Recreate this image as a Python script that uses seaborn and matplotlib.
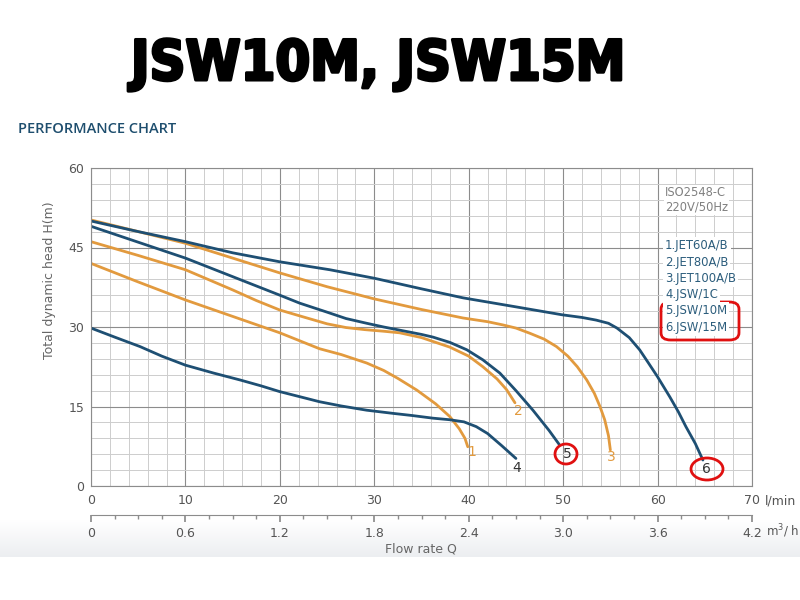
import numpy as np
import pandas as pd
import matplotlib
matplotlib.use("Agg")
import matplotlib.pyplot as plt
import matplotlib.patheffects as pe
import seaborn as sns
from matplotlib.patches import FancyBboxPatch, Ellipse

# ---------------- data ----------------
models = ["1.JET60A/B", "2.JET80A/B", "3.JET100A/B", "4.JSW/1C", "5.JSW/10M", "6.JSW/15M"]

flow_1 = [0, 5, 10, 15, 20, 22.1, 24.2, 26.5, 29.2, 31, 32.5, 34.5, 36.5, 38, 39, 39.6, 39.9]
head_1 = [42, 38.5, 35.1, 32, 28.9, 27.4, 25.9, 24.8, 23.2, 21.8, 20.3, 18.1, 15.5, 13.1, 10.8, 9, 7.4]

flow_2 = [0, 5, 10, 12.5, 15, 17.5, 20, 22.1, 25, 27, 29, 31, 32.7, 35, 38, 40, 41.5, 43, 44, 44.9]
head_2 = [46.1, 43.5, 40.8, 38.9, 37, 35, 33.2, 32.1, 30.6, 29.9, 29.5, 29.2, 28.9, 28, 26.2, 24.5, 22.5, 20.2, 18.2, 15.7]

flow_3 = [0, 5, 10, 15, 20, 25, 30, 35, 39.4, 42, 43.6, 45, 46.5, 48, 49.3, 50.5, 51.5, 52.5, 53.3, 53.9, 54.4, 54.8, 55]
head_3 = [50.2, 48, 45.8, 43, 40.2, 37.6, 35.3, 33.3, 31.7, 31, 30.4, 29.8, 28.8, 27.7, 26.3, 24.5, 22.5, 20, 17.5, 15, 12.5, 9.5, 6.8]

flow_4 = [0, 2.5, 5.2, 7.5, 10, 13, 15.8, 18, 20, 22, 24.2, 26.5, 29.2, 32, 34, 36.2, 38, 39.5, 40.8, 42, 43.5, 45]
head_4 = [29.8, 28.1, 26.3, 24.5, 22.8, 21.3, 20, 18.9, 17.8, 16.9, 15.9, 15.1, 14.3, 13.7, 13.3, 12.8, 12.5, 12.1, 11.2, 9.9, 7.6, 5.2]

flow_5 = [0, 5, 10, 15, 20, 22.1, 25, 27, 29.2, 31, 33, 35, 36.2, 38, 39.8, 41.5, 43.3, 45, 46.8, 48.5, 49.6]
head_5 = [49, 46, 43, 39.5, 36, 34.5, 32.8, 31.6, 30.7, 30, 29.3, 28.6, 28.1, 27.1, 25.7, 23.8, 21.3, 18, 14.3, 10.5, 7.8]

flow_6 = [0, 5, 10, 15, 20, 25.3, 30, 35, 39.4, 45, 49.9, 52, 53.5, 54.8, 55.7, 57, 58.1, 59, 60, 61.3, 62.2, 63, 64, 64.8]
head_6 = [50, 48, 46.1, 44, 42.3, 40.8, 39.2, 37.2, 35.5, 33.8, 32.3, 31.8, 31.3, 30.7, 29.8, 28, 25.7, 23.3, 20.6, 16.8, 14, 11.2, 8, 4.9]

end_labels = ["1", "2", "3", "4", "5", "6"]
label_x = [40.3, 45.3, 55.1, 45.1, 50.4, 65.2]
label_y = [6.4, 14.2, 5.5, 3.4, 6.0, 3.2]

x_ticks_lmin = [0, 10, 20, 30, 40, 50, 60, 70]
y_ticks = [0, 15, 30, 45, 60]
x_ticks_m3h = [0, 0.6, 1.2, 1.8, 2.4, 3.0, 3.6, 4.2]
x_tick_labels_m3h = ["0", "0.6", "1.2", "1.8", "2.4", "3.0", "3.6", "4.2"]

BLUE = "#1e4f73"
ORANGE = "#e29a3e"
colors = [ORANGE, ORANGE, ORANGE, BLUE, BLUE, BLUE]

flows = [flow_1, flow_2, flow_3, flow_4, flow_5, flow_6]
heads = [head_1, head_2, head_3, head_4, head_5, head_6]
df = pd.concat([pd.DataFrame({"flow": f, "head": h, "model": m})
                for f, h, m in zip(flows, heads, models)], ignore_index=True)

# ---------------- figure ----------------
sns.set_theme(style="white")
plt.rcParams['font.family'] = ['DejaVu Sans']

W, H = 800, 600
fig = plt.figure(figsize=(8, 6), dpi=100)
fig.patch.set_facecolor("white")

def fx(px):
    return px / W

def fy(py):
    return 1 - py / H

# faint grey gradient band at the bottom
bg = fig.add_axes([0, fy(557), 1, fy(520) - fy(557)], zorder=-5)
grad = np.linspace(0, 1, 64).reshape(-1, 1)
bg.imshow(grad, aspect="auto", cmap=matplotlib.colors.LinearSegmentedColormap.from_list(
    "g", ["#ffffff", "#eceef1"]), origin="upper", extent=[0, 1, 0, 1])
bg.set_axis_off()

ax = fig.add_axes([fx(91), fy(486), fx(752) - fx(91), fy(168) - fy(486)])

sns.lineplot(data=df, x="flow", y="head", hue="model", palette=dict(zip(models, colors)),
             sort=False, estimator=None, legend=False, linewidth=2.0, ax=ax)

ax.set_xlim(0, 70)
ax.set_ylim(0, 60)
ax.set_xticks(x_ticks_lmin)
ax.set_xticks(np.arange(0, 71, 2), minor=True)
ax.set_yticks(y_ticks)
ax.set_yticks(np.arange(0, 61, 3), minor=True)
ax.grid(which="major", color="#8c8c8c", linewidth=0.8)
ax.grid(which="minor", color="#cdcdcd", linewidth=0.7)
ax.set_axisbelow(True)
for s in ax.spines.values():
    s.set_color("#8c8c8c")
    s.set_linewidth(0.8)
ax.tick_params(axis="both", which="both", length=0, labelsize=9, labelcolor="#555555")
ax.tick_params(axis="x", pad=6)
ax.tick_params(axis="y", pad=5)
ax.set_xlabel("")
ax.set_ylabel("")

# secondary flow axis in m3/h
sec = ax.secondary_xaxis(-0.091, functions=(lambda x: x * 0.06, lambda x: x / 0.06))
sec.set_xticks(x_ticks_m3h)
sec.set_xticklabels(x_tick_labels_m3h)
sec.set_xticks(np.arange(0, 4.21, 0.15), minor=True)
sec.tick_params(axis="x", which="major", length=5, color="#8c8c8c", labelsize=9,
                labelcolor="#555555", pad=4)
sec.tick_params(axis="x", which="minor", length=3, color="#8c8c8c")
sec.spines["bottom"].set_color("#8c8c8c")
sec.spines["bottom"].set_linewidth(0.8)

# end-of-curve labels
for lab, x, y, c in zip(end_labels, label_x, label_y, colors):
    ax.text(x, y, lab, color=c if c == ORANGE else "#333333", fontsize=10,
            ha="center", va="center")

# legend-like text block
fig.text(fx(665), fy(193), "ISO2548-C", color="#808080", fontsize=8.3,
         va="center", bbox=dict(facecolor="white", edgecolor="none", pad=1))
fig.text(fx(665), fy(207), "220V/50Hz", color="#808080", fontsize=8.3,
         va="center", bbox=dict(facecolor="white", edgecolor="none", pad=1))
for i, m in enumerate(models):
    fig.text(fx(665), fy(246 + i * 16.2), m, color="#2c5d7c", fontsize=8.4,
             va="center", bbox=dict(facecolor="white", edgecolor="none", pad=1.5))

# red hand-drawn highlights
fig.add_artist(FancyBboxPatch((fx(661), fy(340)), fx(739) - fx(661), fy(302) - fy(340),
                              boxstyle="round,pad=0,rounding_size=0.012",
                              transform=fig.transFigure, fill=False,
                              edgecolor="#e01010", linewidth=2))
fig.add_artist(Ellipse((fx(566), fy(454)), fx(22), 20 / H, transform=fig.transFigure,
                       fill=False, edgecolor="#e01010", linewidth=2))
fig.add_artist(Ellipse((fx(707), fy(469)), fx(32), 22 / H, transform=fig.transFigure,
                       fill=False, edgecolor="#e01010", linewidth=2))

# titles and axis texts
fig.text(fx(378), fy(65), "JSW10M, JSW15M", fontsize=40, fontweight="heavy",
         fontstretch="condensed", family=["DejaVu Sans"],
         color="black", ha="center", va="center",
         path_effects=[pe.withStroke(linewidth=2.2, foreground="black")])
fig.text(fx(18), fy(129), "PERFORMANCE CHART", fontsize=10.5, fontweight="semibold",
         family=["Open Sans", "DejaVu Sans"], color="#1e4e6e", ha="left", va="center")
fig.text(fx(50), fy(280), "Total dynamic head H(m)", rotation=90, fontsize=9,
         color="#666666", ha="center", va="center")
fig.text(fx(421), fy(549), "Flow rate Q", fontsize=9, color="#666666",
         ha="center", va="center")
fig.text(fx(765), fy(501), "l/min", fontsize=9, color="#555555", ha="left", va="center")
fig.text(fx(766), fy(531), "m$^3$/ h", fontsize=8.5, color="#555555", ha="left", va="center")

fig.savefig("out.png", dpi=100)
